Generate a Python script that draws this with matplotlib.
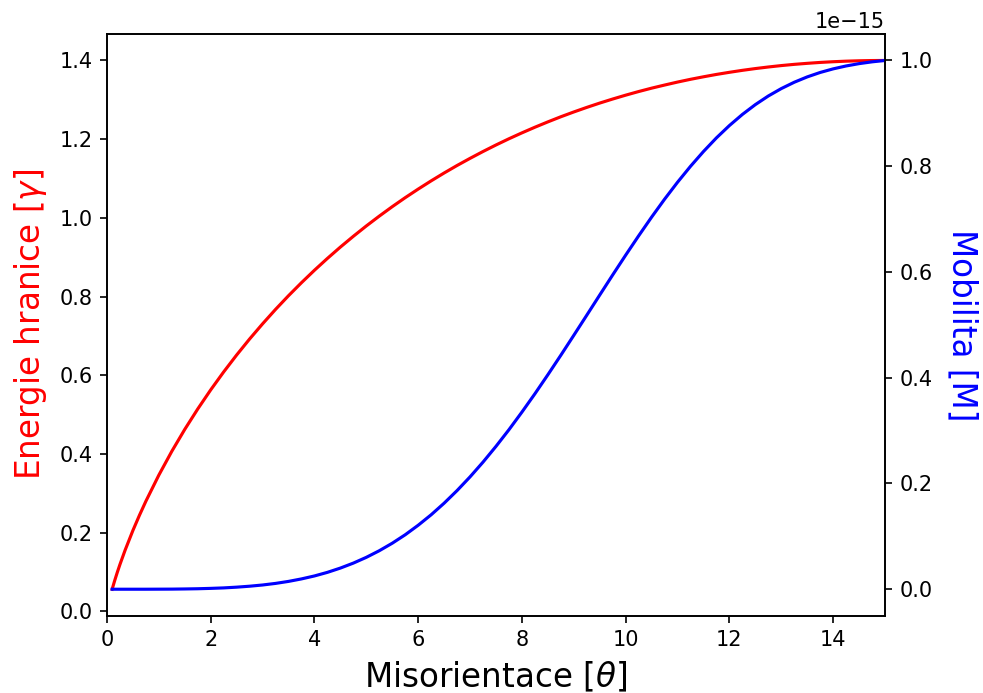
import numpy as np
import matplotlib
matplotlib.use("Agg")
import matplotlib.pyplot as plt

# misorientation angle [deg]
theta = [0.1, 0.15, 0.2, 0.25, 0.35, 0.5, 0.625, 0.75, 1.0, 1.25, 1.5, 1.75,
         2.0, 2.25, 2.5, 2.75, 3.0, 3.25, 3.5, 3.75, 4.0, 4.25, 4.5, 4.75,
         5.0, 5.25, 5.5, 5.75, 6.0, 6.25, 6.5, 6.75, 7.0, 7.25, 7.5, 7.75,
         8.0, 8.25, 8.5, 8.75, 9.0, 9.25, 9.5, 9.75, 10.0, 10.25, 10.5,
         10.75, 11.0, 11.25, 11.5, 11.75, 12.0, 12.25, 12.5, 12.75, 13.0,
         13.25, 13.5, 13.75, 14.0, 14.25, 14.5, 14.75, 15.0]

# boundary energy
energy = [0.0561, 0.0785, 0.0993, 0.1189, 0.1554, 0.2054, 0.2437, 0.2797,
          0.3461, 0.4066, 0.4624, 0.5142, 0.5628, 0.6084, 0.6514, 0.6921,
          0.7306, 0.7673, 0.8021, 0.8352, 0.8668, 0.8969, 0.9257, 0.9531,
          0.9794, 1.0044, 1.0284, 1.0513, 1.0731, 1.0940, 1.1140, 1.1331,
          1.1512, 1.1686, 1.1852, 1.2010, 1.2160, 1.2303, 1.2439, 1.2569,
          1.2691, 1.2807, 1.2917, 1.3020, 1.3118, 1.3210, 1.3296, 1.3375,
          1.3451, 1.3521, 1.3585, 1.3645, 1.3699, 1.3749, 1.3794, 1.3834,
          1.3870, 1.3901, 1.3927, 1.3950, 1.3968, 1.3982, 1.3992, 1.3998,
          1.4000]

# boundary mobility, in units of 1e-15
mobility = [0.0, 0.0, 0.0, 0.0, 0.0, 0.0, 0.0, 0.0, 0.0001, 0.0002, 0.0005,
            0.0009, 0.0016, 0.0025, 0.0039, 0.0057, 0.0080, 0.0110, 0.0148,
            0.0195, 0.0251, 0.0319, 0.0400, 0.0494, 0.0603, 0.0728, 0.0870,
            0.1030, 0.1210, 0.1408, 0.1627, 0.1866, 0.2125, 0.2404, 0.2702,
            0.3017, 0.3350, 0.3696, 0.4056, 0.4425, 0.4802, 0.5182, 0.5564,
            0.5944, 0.6318, 0.6683, 0.7037, 0.7376, 0.7697, 0.7998, 0.8278,
            0.8536, 0.8769, 0.8979, 0.9165, 0.9328, 0.9468, 0.9588, 0.9689,
            0.9773, 0.9841, 0.9896, 0.9940, 0.9974, 1.0000]

fig = plt.figure(figsize=(984 / 150, 693 / 150), dpi=150)
ax = fig.add_axes([0.1087, 0.1116, 0.7907, 0.8393])

ax.plot(theta, energy, color="red", lw=1.5)
ax.set_xlim(0, 15)
ax.set_xlabel(r"Misorientace [$\theta$]", fontsize=15.7, labelpad=5)
ax.set_ylabel(r"Energie hranice [$\gamma$]", color="red", fontsize=15.7,
              labelpad=5)

ax2 = ax.twinx()
ax2.plot(theta, np.array(mobility) * 1e-15, color="blue", lw=1.5)
ax2.set_ylabel("Mobilita [M]", color="blue", fontsize=15.7,
               rotation=270, labelpad=22)

fig.savefig("out.png", dpi=150)
